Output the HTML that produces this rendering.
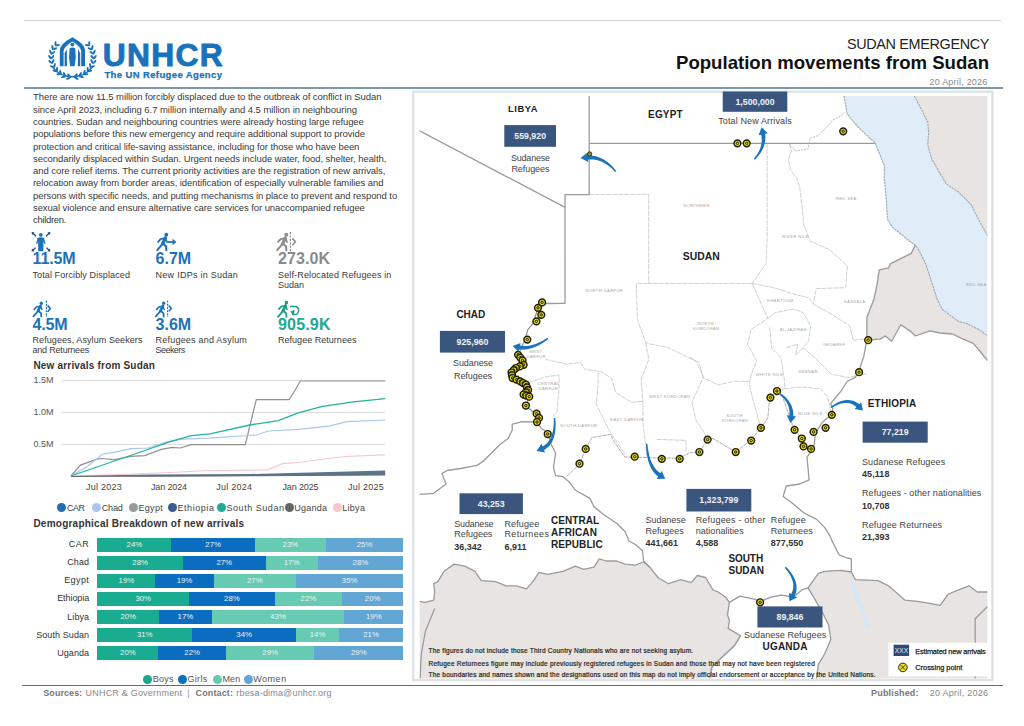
<!DOCTYPE html>
<html><head><meta charset="utf-8">
<style>
*{margin:0;padding:0;box-sizing:border-box}
html,body{width:1024px;height:726px;overflow:hidden;background:#fff;font-family:"Liberation Sans",sans-serif;color:#333;position:relative}
.t{position:absolute;white-space:nowrap;line-height:1}
svg{position:absolute;overflow:visible}
</style></head><body>
<div style="position:absolute;left:23.6px;top:20px;width:977.4px;height:1px;background:#d2d2d2"></div>
<div style="position:absolute;left:24px;top:86.7px;width:979px;height:2px;background:#7c98ab"></div>
<div style="position:absolute;left:22px;top:684.8px;width:981px;height:1.5px;background:#54738a"></div>
<div style="position:absolute;left:61.6px;top:379.9px;width:323.6px;height:1.5px;background:#dcdcdc"></div>
<div style="position:absolute;left:61.6px;top:411.9px;width:323.6px;height:1.5px;background:#dcdcdc"></div>
<div style="position:absolute;left:61.6px;top:443.9px;width:323.6px;height:1.5px;background:#dcdcdc"></div>
<svg style="position:absolute;left:0;top:0" width="420" height="520"><polyline points="70.9,476 120,474.5 170,472.5 210,470.5 267.3,470 282.7,463.6 298.2,462.5 344.4,456.5 385.2,454.8" fill="none" stroke="#f5c6cf" stroke-width="1.2"/><polygon points="70.9,476 150,474.5 250,474 385.2,470.5 385.2,475 250,476 150,476.5" fill="#5b7590"/><polyline points="70.9,476.5 385.2,475" fill="none" stroke="#6d6d6d" stroke-width="1.2"/><polyline points="70.9,476 80.5,465.1 95.6,459.7 101,458.5 114.7,459.7 131,456.3 144.8,455.6 161.2,449.4 172.2,447.4 180.4,448 191.3,444.6 245.3,444.6 256.3,399.7 289.3,399.7 300.4,381 385.2,381" fill="none" stroke="#909090" stroke-width="1.2"/><polyline points="70.9,476 87.4,466.5 102.4,454.2 114.7,452.1 131,448.7 147.6,448 166.7,441.9 183,439.2 210,438.2 256.3,435 268.4,431 298.2,429.4 329,426.1 346.7,421.7 385.2,420" fill="none" stroke="#a9c7ee" stroke-width="1.2"/><polyline points="70.9,476 142,451.5 169.4,441.9 191.3,435.7 210,433.8 249.7,425 278.3,420.6 298.2,412.9 322.4,406.3 353.3,401.9 385.2,398.6" fill="none" stroke="#26b39e" stroke-width="1.3"/></svg>
<div style="position:absolute;left:56.9px;top:503.09999999999997px;width:9.2px;height:9.2px;border-radius:50%;background:#1f6fb5"></div>
<div style="position:absolute;left:91.80000000000001px;top:503.09999999999997px;width:9.2px;height:9.2px;border-radius:50%;background:#a9c7ee"></div>
<div style="position:absolute;left:128.70000000000002px;top:503.09999999999997px;width:9.2px;height:9.2px;border-radius:50%;background:#9a9a9a"></div>
<div style="position:absolute;left:167.70000000000002px;top:503.09999999999997px;width:9.2px;height:9.2px;border-radius:50%;background:#3c5e8a"></div>
<div style="position:absolute;left:216.9px;top:503.09999999999997px;width:9.2px;height:9.2px;border-radius:50%;background:#20ab96"></div>
<div style="position:absolute;left:284.59999999999997px;top:503.09999999999997px;width:9.2px;height:9.2px;border-radius:50%;background:#666"></div>
<div style="position:absolute;left:332.59999999999997px;top:503.09999999999997px;width:9.2px;height:9.2px;border-radius:50%;background:#f5c6cf"></div>
<div style="position:absolute;left:97.30px;top:537.50px;width:74.46px;height:14px;background:#1aac90"></div>
<div style="position:absolute;left:171.46px;top:537.50px;width:83.73px;height:14px;background:#0b6dc0"></div>
<div style="position:absolute;left:254.88px;top:537.50px;width:71.37px;height:14px;background:#66cbb2"></div>
<div style="position:absolute;left:325.95px;top:537.50px;width:77.55px;height:14px;background:#62a6d6"></div>
<div style="position:absolute;left:97.30px;top:555.53px;width:85.95px;height:14px;background:#1aac90"></div>
<div style="position:absolute;left:182.95px;top:555.53px;width:82.89px;height:14px;background:#0b6dc0"></div>
<div style="position:absolute;left:265.54px;top:555.53px;width:52.30px;height:14px;background:#66cbb2"></div>
<div style="position:absolute;left:317.55px;top:555.53px;width:85.95px;height:14px;background:#62a6d6"></div>
<div style="position:absolute;left:97.30px;top:573.56px;width:58.42px;height:14px;background:#1aac90"></div>
<div style="position:absolute;left:155.42px;top:573.56px;width:58.42px;height:14px;background:#0b6dc0"></div>
<div style="position:absolute;left:213.54px;top:573.56px;width:82.89px;height:14px;background:#66cbb2"></div>
<div style="position:absolute;left:296.13px;top:573.56px;width:107.36px;height:14px;background:#62a6d6"></div>
<div style="position:absolute;left:97.30px;top:591.59px;width:92.07px;height:14px;background:#1aac90"></div>
<div style="position:absolute;left:189.07px;top:591.59px;width:85.95px;height:14px;background:#0b6dc0"></div>
<div style="position:absolute;left:274.72px;top:591.59px;width:67.60px;height:14px;background:#66cbb2"></div>
<div style="position:absolute;left:342.02px;top:591.59px;width:61.48px;height:14px;background:#62a6d6"></div>
<div style="position:absolute;left:97.30px;top:609.62px;width:62.10px;height:14px;background:#1aac90"></div>
<div style="position:absolute;left:159.10px;top:609.62px;width:52.83px;height:14px;background:#0b6dc0"></div>
<div style="position:absolute;left:211.63px;top:609.62px;width:133.17px;height:14px;background:#66cbb2"></div>
<div style="position:absolute;left:344.49px;top:609.62px;width:59.01px;height:14px;background:#62a6d6"></div>
<div style="position:absolute;left:97.30px;top:627.65px;width:95.13px;height:14px;background:#1aac90"></div>
<div style="position:absolute;left:192.13px;top:627.65px;width:104.31px;height:14px;background:#0b6dc0"></div>
<div style="position:absolute;left:296.13px;top:627.65px;width:43.13px;height:14px;background:#66cbb2"></div>
<div style="position:absolute;left:338.96px;top:627.65px;width:64.54px;height:14px;background:#62a6d6"></div>
<div style="position:absolute;left:97.30px;top:645.68px;width:61.48px;height:14px;background:#1aac90"></div>
<div style="position:absolute;left:158.48px;top:645.68px;width:67.60px;height:14px;background:#0b6dc0"></div>
<div style="position:absolute;left:225.78px;top:645.68px;width:89.01px;height:14px;background:#66cbb2"></div>
<div style="position:absolute;left:314.49px;top:645.68px;width:89.01px;height:14px;background:#62a6d6"></div>
<div style="position:absolute;left:143.1px;top:674.8px;width:9.2px;height:9.2px;border-radius:50%;background:#18a88e"></div>
<div style="position:absolute;left:177.9px;top:674.8px;width:9.2px;height:9.2px;border-radius:50%;background:#0b6fbe"></div>
<div style="position:absolute;left:212.8px;top:674.8px;width:9.2px;height:9.2px;border-radius:50%;background:#66cbb2"></div>
<div style="position:absolute;left:243.6px;top:674.8px;width:9.2px;height:9.2px;border-radius:50%;background:#62a6d6"></div>
<svg style="left:0;top:0" width="1024" height="726"><defs><clipPath id="mc"><rect x="419.5" y="96" width="568.1" height="582.6"/></clipPath></defs><rect x="413.3" y="91.7" width="579.1" height="588.5" fill="#fff" stroke="#e0e2e4" stroke-width="2.4"/><g clip-path="url(#mc)"><polygon points="914.3,96.0 921.5,109.6 927.7,122.0 928.7,132.3 927.7,144.7 931.8,159.2 940.1,173.6 946.3,184.0 958.7,192.2 971.1,204.6 979.4,221.2 987.6,235.6 987.6,96.0" fill="#e8e4e1"/><polygon points="844.0,96.0 847.1,113.7 855.4,124.0 865.7,134.4 875.0,142.7 879.2,153.0 884.3,165.4 884.3,177.8 886.4,200.5 887.4,219.1 892.6,227.4 902.9,235.6 909.1,241.0 915.3,245.1 915.3,245.1 919.4,251.3 925.6,263.7 931.8,282.3 937.0,298.9 942.2,309.2 950.4,315.4 958.7,321.6 967.0,323.6 979.4,329.8 987.6,336.0 987.6,235.6 987.6,235.6 979.4,221.2 971.1,204.6 958.7,192.2 946.3,184.0 940.1,173.6 931.8,159.2 927.7,144.7 928.7,132.3 927.7,122.0 921.5,109.6 914.3,96.0" fill="#e0ecf8"/><polygon points="915.3,245.1 911.2,253.4 898.8,259.6 890.5,263.7 888.5,267.9 879.2,269.9 877.1,284.4 874.0,298.9 866.8,317.4 866.8,340.2 880.2,339.1 885.4,336.0 891.6,341.2 900.9,324.7 911.2,331.9 915.3,336.0 929.8,330.9 940.1,333.0 952.5,334.0 960.8,338.1 973.2,343.3 979.4,350.5 987.6,360.8 987.6,336.0 979.4,329.8 967.0,323.6 958.7,321.6 950.4,315.4 942.2,309.2 937.0,298.9 931.8,282.3 925.6,263.7 919.4,251.3 915.3,245.1" fill="#e8e4e1"/><polygon points="419.5,601.3 425.4,602.3 433.7,600.2 434.7,592.0 433.7,583.7 437.8,581.7 444.0,571.3 454.3,564.1 464.7,566.2 475.0,571.3 481.2,580.6 495.6,581.7 506.0,585.8 516.3,585.8 526.6,588.9 532.8,581.7 539.0,572.4 547.3,574.4 563.0,571.3 575.4,566.2 583.7,569.3 594.0,567.2 599.2,558.9 606.4,561.0 616.7,561.0 625.0,564.1 635.3,565.1 643.6,562.0 649.8,567.2 658.0,577.5 668.4,583.7 680.8,579.6 691.1,582.7 697.3,575.5 705.6,577.5 713.0,589.9 718.2,592.0 725.4,597.0 729.4,602.4 727.5,614.8 729.4,621.0 728.2,628.4 740.5,635.8 734.3,645.8 719.5,659.4 712.0,666.8 709.6,679.0 419.5,679.0" fill="#e8e4e1"/><polygon points="808.0,587.9 818.4,573.4 824.6,571.3 841.1,570.3 851.3,572.0 855.4,579.6 878.1,580.6 888.5,585.8 905.0,600.2 917.4,601.3 929.8,603.3 940.1,605.4 948.4,594.0 958.7,589.9 969.0,585.8 977.3,592.0 987.6,592.0 987.6,679.0 816.3,679.0 818.4,664.3 824.6,654.0 830.8,639.5 828.7,625.0 822.5,612.6 814.2,598.2 808.0,587.9" fill="#e8e4e1"/><polygon points="852,578 858,592 864,610 870,626 867,629 859,607 852,590" fill="#d6e6f6"/><polyline points="740,636 734,646 720,659 712,667 710,677" fill="none" stroke="#cfe0f2" stroke-width="2.2"/><polyline points="914.3,96.0 921.5,109.6 927.7,122.0 928.7,132.3 927.7,144.7 931.8,159.2 940.1,173.6 946.3,184.0 958.7,192.2 971.1,204.6 979.4,221.2 987.6,235.6" fill="none" stroke="#9ea8b2" stroke-width="1.1" stroke-dasharray="2.4 0.7"/><polyline points="844.0,96.0 847.1,113.7 855.4,124.0 865.7,134.4 875.0,142.7 879.2,153.0 884.3,165.4 884.3,177.8 886.4,200.5 887.4,219.1 892.6,227.4 902.9,235.6 909.1,241.0 915.3,245.1 915.3,245.1 919.4,251.3 925.6,263.7 931.8,282.3 937.0,298.9 942.2,309.2 950.4,315.4 958.7,321.6 967.0,323.6 979.4,329.8 987.6,336.0" fill="none" stroke="#9ea8b2" stroke-width="1.1" stroke-dasharray="2.4 0.7"/><polyline points="565.0,194.7 648.7,194.3 648.7,283.4 752.2,283.4" fill="none" stroke="#cbcbcb" stroke-width="0.9" stroke-dasharray="5 0.9"/><polyline points="648.7,283.4 636.3,283.4 637.4,319.5 645.6,342.2 648.9,343.7 668.4,347.6 695.8,361.3 703.6,376.9 691.9,402.3 695.8,419.8 703.6,431.6 707.5,439.4" fill="none" stroke="#cbcbcb" stroke-width="0.9" stroke-dasharray="5 0.9"/><polyline points="645.6,342.2 648.9,359.3 641.1,378.8 643.0,404.2 643.0,423.8 645.0,439.4 647.0,457.0" fill="none" stroke="#cbcbcb" stroke-width="0.9" stroke-dasharray="5 0.9"/><polyline points="545.4,359.3 566.9,364.2 580.5,362.2 584.5,369.1 602.0,372.0 611.8,378.8 615.7,392.5 631.3,402.3 643.0,401.3" fill="none" stroke="#cbcbcb" stroke-width="0.9" stroke-dasharray="5 0.9"/><polyline points="528.0,383.0 545.0,377.0 559.0,374.9 559.0,388.6 558.1,398.4 557.1,412.0 553.2,415.9" fill="none" stroke="#cbcbcb" stroke-width="0.9" stroke-dasharray="5 0.9"/><polyline points="598.1,373.0 598.1,384.7 596.2,404.2 602.0,415.9 609.8,431.6 625.5,455.0" fill="none" stroke="#cbcbcb" stroke-width="0.9" stroke-dasharray="5 0.9"/><polyline points="656.7,439.4 686.0,440.4 686.0,451.1" fill="none" stroke="#cbcbcb" stroke-width="0.9" stroke-dasharray="5 0.9"/><polyline points="767.1,143.3 767.1,241.0 766.0,263.7 752.2,283.4" fill="none" stroke="#cbcbcb" stroke-width="0.9" stroke-dasharray="5 0.9"/><polyline points="789.4,143.7 791.5,151.0 788.4,159.2 790.5,169.5 797.7,179.8 799.8,188.1 801.8,204.6 803.9,225.3 810.1,241.0 830.0,250.0 847.3,265.8 845.8,287.6 816.2,288.6 813.4,304.3" fill="none" stroke="#cbcbcb" stroke-width="0.9" stroke-dasharray="5 0.9"/><polyline points="752.2,283.4 773.5,287.6 793.9,294.1 808.7,297.8 813.4,304.3 829.1,312.7 849.6,325.7 853.3,340.5 866.3,338.6" fill="none" stroke="#cbcbcb" stroke-width="0.9" stroke-dasharray="5 0.9"/><polyline points="752.2,283.4 758.6,297.8 767.9,318.2 751.2,329.4 747.5,344.2 756.8,360.9 751.2,373.9 749.4,385.0 753.1,400.0 760.9,427.8" fill="none" stroke="#cbcbcb" stroke-width="0.9" stroke-dasharray="5 0.9"/><polyline points="767.9,318.2 775.3,312.7 793.9,309.0 803.2,312.7 810.6,325.7 808.7,340.5 803.2,347.9 816.2,359.1 831.0,373.9 847.7,377.6 866.3,373.9" fill="none" stroke="#cbcbcb" stroke-width="0.9" stroke-dasharray="5 0.9"/><polyline points="769.8,327.5 771.6,347.9 780.9,357.2 782.8,370.2 784.6,381.3 784.6,388.7 777.0,391.0" fill="none" stroke="#cbcbcb" stroke-width="0.9" stroke-dasharray="5 0.9"/><polyline points="786.5,347.9 797.6,344.2 795.8,355.3 803.2,347.9" fill="none" stroke="#cbcbcb" stroke-width="0.9" stroke-dasharray="5 0.9"/><polyline points="690.0,357.2 699.3,362.8 703.0,377.6 717.8,385.0 734.5,381.3 749.4,381.3" fill="none" stroke="#cbcbcb" stroke-width="0.9" stroke-dasharray="5 0.9"/><polyline points="784.6,388.7 801.3,386.9 819.9,388.7 827.3,396.2 831.8,414.8" fill="none" stroke="#cbcbcb" stroke-width="0.9" stroke-dasharray="5 0.9"/><polyline points="789.4,143.7 795.6,151 808,148.9 810.1,138.5 818.4,135.4 828.7,125.1 832.8,119.9 841.1,115.8 845.2,111.7" fill="none" stroke="#b5b5b5" stroke-width="0.9" stroke-dasharray="2 1"/><polyline points="567.0,476.0 579.5,464.3 585.7,448.9 591.9,437.5 610.5,434.4 614.7,442.7 625.0,457.1 634.3,457.1 662.2,458.1 679.7,458.1 689.0,453.0 699.4,452.0 707.6,439.6 713.0,438.5 735.7,452.0 750.2,440.6 761.6,427.2 767.8,417.9 768.8,407.5 769.8,397.2 777.0,391.0 783.0,398.0 790.0,418.0 794.6,429.8 801.8,438.5 803.5,446.4 811.1,448.9" fill="none" stroke="#b0b0b0" stroke-width="1" stroke-dasharray="4 0.8"/><polyline points="419.2,130.7 565.0,207.3" fill="none" stroke="#9b9b9b" stroke-width="1.3" stroke-linejoin="round"/><polyline points="589.2,96.0 589.2,194.7 565.0,194.7 565.0,303.3 546.0,303.5 538.0,307.8 537.0,311.2 532.8,323.6 527.7,329.8 525.6,338.1 520.4,350.5 518.1,354.8 522.5,360.3 523.6,364.8 515.9,368.0 511.5,372.5 512.6,378.0 520.3,381.3 525.9,384.6 528.1,390.1 523.6,394.5 529.2,396.7 525.9,405.5 534.9,413.7 537.0,422.0 541.1,428.2 547.3,432.3 551.4,444.7 555.6,453.0 553.5,467.4 555.6,475.7 563.0,476.7 569.2,481.9 575.4,490.2 589.9,498.4 594.0,506.7 604.3,515.0 616.7,523.2 625.0,531.5 629.1,541.0 635.3,544.5 642.5,550.7 643.6,561.0 649.8,567.2" fill="none" stroke="#9b9b9b" stroke-width="1.3" stroke-linejoin="round"/><polyline points="589.2,143.3 875.0,143.3" fill="none" stroke="#9b9b9b" stroke-width="1.3" stroke-linejoin="round"/><polyline points="419.2,494.3 433.7,493.3 446.1,484.0 441.9,473.6 447.1,470.5 460.5,468.5 477.0,465.4 483.2,461.2 491.5,453.0 499.8,444.7 508.0,438.5 512.2,430.3 512.2,424.1 522.5,421.6 532.8,422.0 537.0,422.0" fill="none" stroke="#9b9b9b" stroke-width="1.3" stroke-linejoin="round"/><polyline points="915.3,245.1 911.2,253.4 898.8,259.6 890.5,263.7 888.5,267.9 879.2,269.9 877.1,284.4 874.0,298.9 866.8,317.4 866.8,340.2" fill="none" stroke="#9b9b9b" stroke-width="1.3" stroke-linejoin="round"/><polyline points="866.8,340.2 880.2,339.1 885.4,336.0 891.6,341.2 900.9,324.7 911.2,331.9 915.3,336.0 929.8,330.9 940.1,333.0 952.5,334.0 960.8,338.1 973.2,343.3 979.4,350.5 987.6,360.8" fill="none" stroke="#9b9b9b" stroke-width="1.3" stroke-linejoin="round"/><polyline points="866.8,340.2 865.7,346.4 863.7,356.7 859.5,369.1 855.4,377.4 847.1,381.5 841.1,391.0 830.8,403.4 832.8,408.6 831.8,414.8 822.5,422.0 815.3,433.4 814.2,444.7 810.1,453.0 807.0,457.1 809.1,479.8 799.8,484.0 786.3,486.0 783.2,496.4 791.5,502.6 803.9,512.9 816.3,519.1 824.6,527.4 829.7,535.6 832.8,542.4 839.0,554.8 847.3,558.0 851.3,558.9 851.3,572.0" fill="none" stroke="#9b9b9b" stroke-width="1.3" stroke-linejoin="round"/><polyline points="419.5,601.3 425.4,602.3 433.7,600.2 434.7,592.0 433.7,583.7 437.8,581.7 444.0,571.3 454.3,564.1 464.7,566.2 475.0,571.3 481.2,580.6 495.6,581.7 506.0,585.8 516.3,585.8 526.6,588.9 532.8,581.7 539.0,572.4 547.3,574.4 563.0,571.3 575.4,566.2 583.7,569.3 594.0,567.2 599.2,558.9 606.4,561.0 616.7,561.0 625.0,564.1 635.3,565.1 643.6,562.0 649.8,567.2 658.0,577.5 668.4,583.7 680.8,579.6 691.1,582.7 697.3,575.5 705.6,577.5 713.0,589.9 718.2,592.0 725.4,597.0 729.4,602.4 727.5,614.8 729.4,621.0 728.2,628.4 740.5,635.8 734.3,645.8 719.5,659.4 712.0,666.8 709.6,679.0" fill="none" stroke="#9b9b9b" stroke-width="1.3" stroke-linejoin="round"/><polyline points="729.4,602.4 739.9,596.1 754.3,599.2 760.5,601.3 770.9,597.1 781.2,595.1 793.6,597.1 801.8,589.9 808.0,587.9" fill="none" stroke="#9b9b9b" stroke-width="1.3" stroke-linejoin="round"/><polyline points="808.0,587.9 818.4,573.4 824.6,571.3 841.1,570.3 851.3,572.0 855.4,579.6 878.1,580.6 888.5,585.8 905.0,600.2 917.4,601.3 929.8,603.3 940.1,605.4 948.4,594.0 958.7,589.9 969.0,585.8 977.3,592.0 987.6,592.0" fill="none" stroke="#9b9b9b" stroke-width="1.3" stroke-linejoin="round"/><polyline points="808.0,587.9 814.2,598.2 822.5,612.6 828.7,625.0 830.8,639.5 824.6,654.0 818.4,664.3 816.3,679.0" fill="none" stroke="#9b9b9b" stroke-width="1.3" stroke-linejoin="round"/><polyline points="434.7,608.5 425.4,631.2 421.3,654.0 420.0,679.0" fill="none" stroke="#9b9b9b" stroke-width="1.3" stroke-linejoin="round"/><polyline points="987.6,606.4 975.2,618.8 975.2,679.0" fill="none" stroke="#9b9b9b" stroke-width="1.3" stroke-linejoin="round"/></g><circle cx="737.4" cy="143.3" r="3.4" fill="#e6da12" stroke="#1f1d0a" stroke-width="1.45"/><circle cx="737.4" cy="143.3" r="1.2" fill="none" stroke="#1f1d0a" stroke-width="1"/><circle cx="746.7" cy="143.3" r="3.4" fill="#e6da12" stroke="#1f1d0a" stroke-width="1.45"/><circle cx="746.7" cy="143.3" r="1.2" fill="none" stroke="#1f1d0a" stroke-width="1"/><circle cx="843.2" cy="131.3" r="3.4" fill="#e6da12" stroke="#1f1d0a" stroke-width="1.45"/><circle cx="843.2" cy="131.3" r="1.2" fill="none" stroke="#1f1d0a" stroke-width="1"/><circle cx="542.1" cy="302.4" r="3.4" fill="#e6da12" stroke="#1f1d0a" stroke-width="1.45"/><circle cx="542.1" cy="302.4" r="1.2" fill="none" stroke="#1f1d0a" stroke-width="1"/><circle cx="538" cy="307.8" r="3.4" fill="#e6da12" stroke="#1f1d0a" stroke-width="1.45"/><circle cx="538" cy="307.8" r="1.2" fill="none" stroke="#1f1d0a" stroke-width="1"/><circle cx="541.3" cy="314.8" r="3.4" fill="#e6da12" stroke="#1f1d0a" stroke-width="1.45"/><circle cx="541.3" cy="314.8" r="1.2" fill="none" stroke="#1f1d0a" stroke-width="1"/><circle cx="536.4" cy="321.4" r="3.4" fill="#e6da12" stroke="#1f1d0a" stroke-width="1.45"/><circle cx="536.4" cy="321.4" r="1.2" fill="none" stroke="#1f1d0a" stroke-width="1"/><circle cx="527.3" cy="339.6" r="3.4" fill="#e6da12" stroke="#1f1d0a" stroke-width="1.45"/><circle cx="527.3" cy="339.6" r="1.2" fill="none" stroke="#1f1d0a" stroke-width="1"/><circle cx="518.1" cy="354.8" r="3.4" fill="#e6da12" stroke="#1f1d0a" stroke-width="1.45"/><circle cx="518.1" cy="354.8" r="1.2" fill="none" stroke="#1f1d0a" stroke-width="1"/><circle cx="520.3" cy="357.6" r="3.4" fill="#e6da12" stroke="#1f1d0a" stroke-width="1.45"/><circle cx="520.3" cy="357.6" r="1.2" fill="none" stroke="#1f1d0a" stroke-width="1"/><circle cx="522.5" cy="360.3" r="3.4" fill="#e6da12" stroke="#1f1d0a" stroke-width="1.45"/><circle cx="522.5" cy="360.3" r="1.2" fill="none" stroke="#1f1d0a" stroke-width="1"/><circle cx="523.6" cy="364.8" r="3.4" fill="#e6da12" stroke="#1f1d0a" stroke-width="1.45"/><circle cx="523.6" cy="364.8" r="1.2" fill="none" stroke="#1f1d0a" stroke-width="1"/><circle cx="519.8" cy="366.4" r="3.4" fill="#e6da12" stroke="#1f1d0a" stroke-width="1.45"/><circle cx="519.8" cy="366.4" r="1.2" fill="none" stroke="#1f1d0a" stroke-width="1"/><circle cx="515.9" cy="368.0" r="3.4" fill="#e6da12" stroke="#1f1d0a" stroke-width="1.45"/><circle cx="515.9" cy="368.0" r="1.2" fill="none" stroke="#1f1d0a" stroke-width="1"/><circle cx="513.7" cy="370.2" r="3.4" fill="#e6da12" stroke="#1f1d0a" stroke-width="1.45"/><circle cx="513.7" cy="370.2" r="1.2" fill="none" stroke="#1f1d0a" stroke-width="1"/><circle cx="511.5" cy="372.5" r="3.4" fill="#e6da12" stroke="#1f1d0a" stroke-width="1.45"/><circle cx="511.5" cy="372.5" r="1.2" fill="none" stroke="#1f1d0a" stroke-width="1"/><circle cx="512.0" cy="375.2" r="3.4" fill="#e6da12" stroke="#1f1d0a" stroke-width="1.45"/><circle cx="512.0" cy="375.2" r="1.2" fill="none" stroke="#1f1d0a" stroke-width="1"/><circle cx="512.6" cy="378.0" r="3.4" fill="#e6da12" stroke="#1f1d0a" stroke-width="1.45"/><circle cx="512.6" cy="378.0" r="1.2" fill="none" stroke="#1f1d0a" stroke-width="1"/><circle cx="516.5" cy="379.6" r="3.4" fill="#e6da12" stroke="#1f1d0a" stroke-width="1.45"/><circle cx="516.5" cy="379.6" r="1.2" fill="none" stroke="#1f1d0a" stroke-width="1"/><circle cx="520.3" cy="381.3" r="3.4" fill="#e6da12" stroke="#1f1d0a" stroke-width="1.45"/><circle cx="520.3" cy="381.3" r="1.2" fill="none" stroke="#1f1d0a" stroke-width="1"/><circle cx="523.1" cy="383.0" r="3.4" fill="#e6da12" stroke="#1f1d0a" stroke-width="1.45"/><circle cx="523.1" cy="383.0" r="1.2" fill="none" stroke="#1f1d0a" stroke-width="1"/><circle cx="525.9" cy="384.6" r="3.4" fill="#e6da12" stroke="#1f1d0a" stroke-width="1.45"/><circle cx="525.9" cy="384.6" r="1.2" fill="none" stroke="#1f1d0a" stroke-width="1"/><circle cx="527.0" cy="387.4" r="3.4" fill="#e6da12" stroke="#1f1d0a" stroke-width="1.45"/><circle cx="527.0" cy="387.4" r="1.2" fill="none" stroke="#1f1d0a" stroke-width="1"/><circle cx="528.1" cy="390.1" r="3.4" fill="#e6da12" stroke="#1f1d0a" stroke-width="1.45"/><circle cx="528.1" cy="390.1" r="1.2" fill="none" stroke="#1f1d0a" stroke-width="1"/><circle cx="525.9" cy="392.3" r="3.4" fill="#e6da12" stroke="#1f1d0a" stroke-width="1.45"/><circle cx="525.9" cy="392.3" r="1.2" fill="none" stroke="#1f1d0a" stroke-width="1"/><circle cx="523.6" cy="394.5" r="3.4" fill="#e6da12" stroke="#1f1d0a" stroke-width="1.45"/><circle cx="523.6" cy="394.5" r="1.2" fill="none" stroke="#1f1d0a" stroke-width="1"/><circle cx="526.4" cy="395.6" r="3.4" fill="#e6da12" stroke="#1f1d0a" stroke-width="1.45"/><circle cx="526.4" cy="395.6" r="1.2" fill="none" stroke="#1f1d0a" stroke-width="1"/><circle cx="529.2" cy="396.7" r="3.4" fill="#e6da12" stroke="#1f1d0a" stroke-width="1.45"/><circle cx="529.2" cy="396.7" r="1.2" fill="none" stroke="#1f1d0a" stroke-width="1"/><circle cx="525.9" cy="405.5" r="3.4" fill="#e6da12" stroke="#1f1d0a" stroke-width="1.45"/><circle cx="525.9" cy="405.5" r="1.2" fill="none" stroke="#1f1d0a" stroke-width="1"/><circle cx="536.6" cy="413.7" r="3.4" fill="#e6da12" stroke="#1f1d0a" stroke-width="1.45"/><circle cx="536.6" cy="413.7" r="1.2" fill="none" stroke="#1f1d0a" stroke-width="1"/><circle cx="539" cy="417.9" r="3.4" fill="#e6da12" stroke="#1f1d0a" stroke-width="1.45"/><circle cx="539" cy="417.9" r="1.2" fill="none" stroke="#1f1d0a" stroke-width="1"/><circle cx="537" cy="422" r="3.4" fill="#e6da12" stroke="#1f1d0a" stroke-width="1.45"/><circle cx="537" cy="422" r="1.2" fill="none" stroke="#1f1d0a" stroke-width="1"/><circle cx="547.7" cy="434" r="3.4" fill="#e6da12" stroke="#1f1d0a" stroke-width="1.45"/><circle cx="547.7" cy="434" r="1.2" fill="none" stroke="#1f1d0a" stroke-width="1"/><circle cx="585.7" cy="448.9" r="3.4" fill="#e6da12" stroke="#1f1d0a" stroke-width="1.45"/><circle cx="585.7" cy="448.9" r="1.2" fill="none" stroke="#1f1d0a" stroke-width="1"/><circle cx="579.5" cy="463.7" r="3.4" fill="#e6da12" stroke="#1f1d0a" stroke-width="1.45"/><circle cx="579.5" cy="463.7" r="1.2" fill="none" stroke="#1f1d0a" stroke-width="1"/><circle cx="634.7" cy="456.7" r="3.4" fill="#e6da12" stroke="#1f1d0a" stroke-width="1.45"/><circle cx="634.7" cy="456.7" r="1.2" fill="none" stroke="#1f1d0a" stroke-width="1"/><circle cx="661.8" cy="458.8" r="3.4" fill="#e6da12" stroke="#1f1d0a" stroke-width="1.45"/><circle cx="661.8" cy="458.8" r="1.2" fill="none" stroke="#1f1d0a" stroke-width="1"/><circle cx="679.7" cy="458.8" r="3.4" fill="#e6da12" stroke="#1f1d0a" stroke-width="1.45"/><circle cx="679.7" cy="458.8" r="1.2" fill="none" stroke="#1f1d0a" stroke-width="1"/><circle cx="699.4" cy="452" r="3.4" fill="#e6da12" stroke="#1f1d0a" stroke-width="1.45"/><circle cx="699.4" cy="452" r="1.2" fill="none" stroke="#1f1d0a" stroke-width="1"/><circle cx="707.6" cy="439.6" r="3.4" fill="#e6da12" stroke="#1f1d0a" stroke-width="1.45"/><circle cx="707.6" cy="439.6" r="1.2" fill="none" stroke="#1f1d0a" stroke-width="1"/><circle cx="735.7" cy="452" r="3.4" fill="#e6da12" stroke="#1f1d0a" stroke-width="1.45"/><circle cx="735.7" cy="452" r="1.2" fill="none" stroke="#1f1d0a" stroke-width="1"/><circle cx="751.2" cy="440.6" r="3.4" fill="#e6da12" stroke="#1f1d0a" stroke-width="1.45"/><circle cx="751.2" cy="440.6" r="1.2" fill="none" stroke="#1f1d0a" stroke-width="1"/><circle cx="760.9" cy="427.8" r="3.4" fill="#e6da12" stroke="#1f1d0a" stroke-width="1.45"/><circle cx="760.9" cy="427.8" r="1.2" fill="none" stroke="#1f1d0a" stroke-width="1"/><circle cx="770.4" cy="397.6" r="3.4" fill="#e6da12" stroke="#1f1d0a" stroke-width="1.45"/><circle cx="770.4" cy="397.6" r="1.2" fill="none" stroke="#1f1d0a" stroke-width="1"/><circle cx="777" cy="391" r="3.4" fill="#e6da12" stroke="#1f1d0a" stroke-width="1.45"/><circle cx="777" cy="391" r="1.2" fill="none" stroke="#1f1d0a" stroke-width="1"/><circle cx="794.6" cy="429.8" r="3.4" fill="#e6da12" stroke="#1f1d0a" stroke-width="1.45"/><circle cx="794.6" cy="429.8" r="1.2" fill="none" stroke="#1f1d0a" stroke-width="1"/><circle cx="801.8" cy="438.5" r="3.4" fill="#e6da12" stroke="#1f1d0a" stroke-width="1.45"/><circle cx="801.8" cy="438.5" r="1.2" fill="none" stroke="#1f1d0a" stroke-width="1"/><circle cx="803.5" cy="446.4" r="3.4" fill="#e6da12" stroke="#1f1d0a" stroke-width="1.45"/><circle cx="803.5" cy="446.4" r="1.2" fill="none" stroke="#1f1d0a" stroke-width="1"/><circle cx="811.1" cy="448.9" r="3.4" fill="#e6da12" stroke="#1f1d0a" stroke-width="1.45"/><circle cx="811.1" cy="448.9" r="1.2" fill="none" stroke="#1f1d0a" stroke-width="1"/><circle cx="813.6" cy="431.9" r="3.4" fill="#e6da12" stroke="#1f1d0a" stroke-width="1.45"/><circle cx="813.6" cy="431.9" r="1.2" fill="none" stroke="#1f1d0a" stroke-width="1"/><circle cx="825.6" cy="427.8" r="3.4" fill="#e6da12" stroke="#1f1d0a" stroke-width="1.45"/><circle cx="825.6" cy="427.8" r="1.2" fill="none" stroke="#1f1d0a" stroke-width="1"/><circle cx="831.8" cy="414.8" r="3.4" fill="#e6da12" stroke="#1f1d0a" stroke-width="1.45"/><circle cx="831.8" cy="414.8" r="1.2" fill="none" stroke="#1f1d0a" stroke-width="1"/><circle cx="868.2" cy="340.2" r="3.4" fill="#e6da12" stroke="#1f1d0a" stroke-width="1.45"/><circle cx="868.2" cy="340.2" r="1.2" fill="none" stroke="#1f1d0a" stroke-width="1"/><circle cx="859.1" cy="372.2" r="3.4" fill="#e6da12" stroke="#1f1d0a" stroke-width="1.45"/><circle cx="859.1" cy="372.2" r="1.2" fill="none" stroke="#1f1d0a" stroke-width="1"/><circle cx="760.1" cy="602.3" r="3.4" fill="#e6da12" stroke="#1f1d0a" stroke-width="1.45"/><circle cx="760.1" cy="602.3" r="1.2" fill="none" stroke="#1f1d0a" stroke-width="1"/><polygon points="616.3,171.1 614.7,169.2 613.1,167.3 611.5,165.6 609.8,164.0 608.1,162.6 606.3,161.3 604.5,160.1 602.6,159.0 600.7,158.1 598.8,157.3 596.8,156.6 594.7,156.1 592.6,155.7 590.5,155.5 588.3,155.4 586.1,155.5 586.5,159.7 588.5,159.4 590.4,159.4 592.3,159.4 594.1,159.6 596.0,159.9 597.8,160.3 599.6,160.9 601.4,161.6 603.2,162.4 604.9,163.4 606.7,164.5 608.4,165.7 610.1,167.1 611.8,168.6 613.5,170.3 615.1,172.1" fill="#1b73ba"/><polygon points="580.6,158.1 587.3,152.7 588.2,162.1" fill="#1b73ba"/><polygon points="754.8,159.7 756.3,158.2 757.7,156.7 759.0,155.1 760.1,153.6 761.2,151.9 762.1,150.3 762.9,148.6 763.6,146.9 764.2,145.2 764.7,143.5 765.0,141.7 765.3,139.9 765.4,138.0 765.3,136.2 765.2,134.3 764.9,132.4 760.8,133.3 761.2,134.9 761.5,136.5 761.7,138.1 761.7,139.7 761.7,141.3 761.6,142.9 761.3,144.5 760.9,146.1 760.4,147.7 759.9,149.2 759.1,150.8 758.3,152.4 757.3,154.0 756.3,155.5 755.1,157.1 753.8,158.7" fill="#1b73ba"/><polygon points="761.6,127.2 767.7,133.2 758.6,135.2" fill="#1b73ba"/><polygon points="547.5,337.7 545.4,339.0 543.5,340.2 541.5,341.3 539.6,342.3 537.7,343.1 535.8,343.9 533.9,344.5 532.1,345.0 530.3,345.4 528.6,345.7 526.9,345.9 525.2,345.9 523.5,345.9 521.9,345.7 520.2,345.5 518.7,345.1 517.8,349.2 519.7,349.5 521.6,349.6 523.5,349.6 525.4,349.4 527.2,349.2 529.1,348.8 531.0,348.3 532.9,347.7 534.8,347.0 536.8,346.2 538.7,345.3 540.6,344.2 542.5,343.0 544.4,341.8 546.4,340.4 548.3,338.9" fill="#1b73ba"/><polygon points="512.6,346 520.6,342.9 518.7,352.1" fill="#1b73ba"/><polygon points="553.8,417.9 553.8,421.0 553.7,423.9 553.5,426.6 553.2,429.1 552.8,431.5 552.2,433.7 551.6,435.7 550.8,437.6 549.9,439.3 548.9,440.9 547.9,442.2 546.7,443.4 545.5,444.5 544.1,445.4 542.7,446.2 541.1,446.8 542.7,450.7 544.6,449.7 546.3,448.6 547.8,447.3 549.3,445.9 550.5,444.3 551.6,442.6 552.6,440.7 553.4,438.7 554.1,436.6 554.7,434.3 555.1,431.9 555.4,429.4 555.5,426.7 555.6,423.9 555.5,420.9 555.2,417.9" fill="#1b73ba"/><polygon points="536.6,450.9 541.5,443.8 545.0,452.5" fill="#1b73ba"/><polygon points="646.0,443.7 646.1,446.7 646.3,449.6 646.6,452.4 647.0,455.0 647.5,457.6 648.0,460.0 648.7,462.3 649.5,464.4 650.3,466.5 651.3,468.4 652.4,470.2 653.5,472.0 654.8,473.5 656.2,475.0 657.7,476.3 659.3,477.5 661.5,474.0 660.1,473.1 658.8,472.1 657.5,471.0 656.3,469.7 655.1,468.3 654.0,466.8 653.0,465.1 652.1,463.3 651.2,461.3 650.4,459.2 649.7,457.0 649.1,454.6 648.6,452.1 648.1,449.4 647.7,446.6 647.4,443.7" fill="#1b73ba"/><polygon points="665.3,478.8 656.7,479.0 661.7,471.0" fill="#1b73ba"/><polygon points="778.7,393.7 780.3,395.0 781.7,396.3 783.1,397.7 784.3,399.1 785.3,400.4 786.3,401.9 787.1,403.3 787.8,404.7 788.4,406.2 788.8,407.7 789.2,409.2 789.4,410.7 789.5,412.2 789.5,413.8 789.4,415.4 789.1,417.0 793.3,417.5 793.4,415.6 793.3,413.8 793.2,411.9 792.9,410.1 792.4,408.4 791.9,406.7 791.2,405.1 790.4,403.5 789.4,401.9 788.4,400.4 787.2,399.0 785.9,397.6 784.5,396.2 782.9,395.0 781.3,393.7 779.5,392.5" fill="#1b73ba"/><polygon points="790.5,423 786.7,415.3 796.1,416.4" fill="#1b73ba"/><polygon points="831.2,408.1 833.4,406.9 835.4,405.8 837.4,404.9 839.4,404.1 841.3,403.6 843.1,403.2 844.8,403.0 846.5,402.9 848.0,403.1 849.6,403.3 851.0,403.7 852.4,404.3 853.7,405.0 855.0,405.9 856.2,406.9 857.4,408.1 860.3,405.1 858.8,403.8 857.1,402.7 855.4,401.8 853.7,401.0 851.9,400.5 850.1,400.2 848.2,400.0 846.4,400.1 844.5,400.3 842.5,400.8 840.6,401.3 838.6,402.1 836.6,403.1 834.6,404.2 832.5,405.4 830.4,406.9" fill="#1b73ba"/><polygon points="863,410.6 854.6,408.9 861.1,402.2" fill="#1b73ba"/><polygon points="784.8,567.7 786.4,569.7 787.9,571.7 789.2,573.6 790.3,575.5 791.3,577.4 792.0,579.2 792.6,581.0 793.0,582.7 793.3,584.4 793.3,586.1 793.2,587.7 793.0,589.2 792.6,590.8 792.0,592.3 791.3,593.8 790.5,595.3 794.1,597.4 795.0,595.5 795.7,593.6 796.2,591.7 796.5,589.8 796.6,587.8 796.5,585.9 796.2,584.0 795.8,582.0 795.1,580.1 794.3,578.2 793.3,576.3 792.2,574.4 790.9,572.5 789.4,570.6 787.7,568.6 785.8,566.7" fill="#1b73ba"/><polygon points="789.4,601.3 788.9,592.7 797.1,597.4" fill="#1b73ba"/><circle cx="589.6" cy="154" r="2.2" fill="#8c8a20" stroke="#222" stroke-width="0.8"/><rect x="504.3" y="125.1" width="51.7" height="21.7" fill="#3a567e"/><rect x="722.7" y="91.5" width="64.6" height="20.3" fill="#3a567e"/><rect x="439.9" y="330.9" width="65.1" height="21.7" fill="#3a567e"/><rect x="459.5" y="493.3" width="63.4" height="20.8" fill="#3a567e"/><rect x="686.4" y="488.9" width="64.9" height="22.6" fill="#3a567e"/><rect x="862.6" y="421.6" width="65.1" height="21.1" fill="#3a567e"/><rect x="757.4" y="606.4" width="65.1" height="21.1" fill="#3a567e"/><rect x="888.4" y="642.8" width="99.2" height="33.6" fill="#fff"/><rect x="893.6" y="644.7" width="15.5" height="11.3" fill="#2f4a78"/><circle cx="902.9" cy="667.4" r="4.3" fill="#f2e31b" stroke="#222" stroke-width="1"/><path d="M900.6,665.1 L905.2,669.7 M905.2,665.1 L900.6,669.7" stroke="#222" stroke-width="0.9"/></svg>
<svg style="left:0;top:0" width="240" height="100"><g fill="#1a72bb"><ellipse cx="68.48" cy="78.23" rx="2.5" ry="1.05" transform="rotate(152.0 68.48 78.23)"/><ellipse cx="68.95" cy="75.57" rx="2.5" ry="1.05" transform="rotate(228.0 68.95 75.57)"/><ellipse cx="63.41" cy="76.80" rx="2.5" ry="1.05" transform="rotate(165.5 63.41 76.80)"/><ellipse cx="64.48" cy="74.32" rx="2.5" ry="1.05" transform="rotate(241.5 64.48 74.32)"/><ellipse cx="58.83" cy="74.29" rx="2.5" ry="1.05" transform="rotate(179.0 58.83 74.29)"/><ellipse cx="60.45" cy="72.13" rx="2.5" ry="1.05" transform="rotate(255.0 60.45 72.13)"/><ellipse cx="55.00" cy="70.85" rx="2.5" ry="1.05" transform="rotate(192.5 55.00 70.85)"/><ellipse cx="57.08" cy="69.14" rx="2.5" ry="1.05" transform="rotate(268.5 57.08 69.14)"/><ellipse cx="52.13" cy="66.67" rx="2.5" ry="1.05" transform="rotate(206.0 52.13 66.67)"/><ellipse cx="54.56" cy="65.49" rx="2.5" ry="1.05" transform="rotate(282.0 54.56 65.49)"/><ellipse cx="50.38" cy="61.98" rx="2.5" ry="1.05" transform="rotate(219.5 50.38 61.98)"/><ellipse cx="53.02" cy="61.39" rx="2.5" ry="1.05" transform="rotate(295.5 53.02 61.39)"/><ellipse cx="49.85" cy="57.03" rx="2.5" ry="1.05" transform="rotate(233.0 49.85 57.03)"/><ellipse cx="52.55" cy="57.08" rx="2.5" ry="1.05" transform="rotate(309.0 52.55 57.08)"/><ellipse cx="50.57" cy="52.10" rx="2.5" ry="1.05" transform="rotate(246.5 50.57 52.10)"/><ellipse cx="53.18" cy="52.78" rx="2.5" ry="1.05" transform="rotate(322.5 53.18 52.78)"/><ellipse cx="52.49" cy="47.47" rx="2.5" ry="1.05" transform="rotate(260.0 52.49 47.47)"/><ellipse cx="54.87" cy="48.74" rx="2.5" ry="1.05" transform="rotate(336.0 54.87 48.74)"/><ellipse cx="55.51" cy="43.39" rx="2.5" ry="1.05" transform="rotate(273.5 55.51 43.39)"/><ellipse cx="57.53" cy="45.17" rx="2.5" ry="1.05" transform="rotate(349.5 57.53 45.17)"/><ellipse cx="76.32" cy="78.23" rx="2.5" ry="1.05" transform="rotate(208.0 76.32 78.23)"/><ellipse cx="75.85" cy="75.57" rx="2.5" ry="1.05" transform="rotate(132.0 75.85 75.57)"/><ellipse cx="81.39" cy="76.80" rx="2.5" ry="1.05" transform="rotate(194.5 81.39 76.80)"/><ellipse cx="80.32" cy="74.32" rx="2.5" ry="1.05" transform="rotate(118.5 80.32 74.32)"/><ellipse cx="85.97" cy="74.29" rx="2.5" ry="1.05" transform="rotate(181.0 85.97 74.29)"/><ellipse cx="84.35" cy="72.13" rx="2.5" ry="1.05" transform="rotate(105.0 84.35 72.13)"/><ellipse cx="89.80" cy="70.85" rx="2.5" ry="1.05" transform="rotate(167.5 89.80 70.85)"/><ellipse cx="87.72" cy="69.14" rx="2.5" ry="1.05" transform="rotate(91.5 87.72 69.14)"/><ellipse cx="92.67" cy="66.67" rx="2.5" ry="1.05" transform="rotate(154.0 92.67 66.67)"/><ellipse cx="90.24" cy="65.49" rx="2.5" ry="1.05" transform="rotate(78.0 90.24 65.49)"/><ellipse cx="94.42" cy="61.98" rx="2.5" ry="1.05" transform="rotate(140.5 94.42 61.98)"/><ellipse cx="91.78" cy="61.39" rx="2.5" ry="1.05" transform="rotate(64.5 91.78 61.39)"/><ellipse cx="94.95" cy="57.03" rx="2.5" ry="1.05" transform="rotate(127.0 94.95 57.03)"/><ellipse cx="92.25" cy="57.08" rx="2.5" ry="1.05" transform="rotate(51.0 92.25 57.08)"/><ellipse cx="94.23" cy="52.10" rx="2.5" ry="1.05" transform="rotate(113.5 94.23 52.10)"/><ellipse cx="91.62" cy="52.78" rx="2.5" ry="1.05" transform="rotate(37.5 91.62 52.78)"/><ellipse cx="92.31" cy="47.47" rx="2.5" ry="1.05" transform="rotate(100.0 92.31 47.47)"/><ellipse cx="89.93" cy="48.74" rx="2.5" ry="1.05" transform="rotate(24.0 89.93 48.74)"/><ellipse cx="89.29" cy="43.39" rx="2.5" ry="1.05" transform="rotate(86.5 89.29 43.39)"/><ellipse cx="87.27" cy="45.17" rx="2.5" ry="1.05" transform="rotate(10.5 87.27 45.17)"/><path d="M52.5,67 Q60,77.5 76,76.8 M92.3,67 Q84.8,77.5 68.8,76.8" fill="none" stroke="#1a72bb" stroke-width="1.3"/><path fill-rule="evenodd" d="M59.8,66.2 L59.8,50 Q59.8,44 72.4,37.2 Q85,44 85,50 L85,66.2 L81.2,66.2 L81.2,51 Q80.8,46.6 72.4,41.4 Q64,46.6 63.6,51 L63.6,66.2 Z"/><circle cx="72.4" cy="44.6" r="1.9"/><path d="M69.6,48.2 Q72.4,46.8 75.2,48.2 L75.8,58 L74.6,66.2 L70.2,66.2 L69,58 Z"/><path d="M64.6,53 L66.8,49.5 L67,66.2 L64.6,66.2 Z M80.2,53 L78,49.5 L77.8,66.2 L80.2,66.2 Z"/></g></svg>
<svg style="left:0;top:0" width="420" height="360"><g fill="#1a72bb"><circle cx="40.8" cy="234.8" r="1.9"/><path d="M37.6,238 Q40.8,236.6 44,238 L45.5,243.5 L44.2,244 L43.4,240.5 L43.4,251.2 L38.2,251.2 L38.2,240.5 L37.4,244 L36.1,243.5 Z"/></g><g stroke="#1d4f7a" stroke-width="1.3" fill="none"><path d="M32.4,232.8 L36,236.2"/><path d="M49.6,232.8 L46,236.2"/><path d="M32.4,250.8 L35.6,247.6"/><path d="M49.6,250.8 L46.4,247.6"/></g><g fill="#1d4f7a"><path d="M31.6,232 L34.6,232.4 L32,235 Z"/><path d="M50.4,232 L47.4,232.4 L50,235 Z"/><path d="M31.6,251.6 L32,248.6 L34.6,251.2 Z"/><path d="M50.4,251.6 L50,248.6 L47.4,251.2 Z"/></g><g transform="translate(154.6,232.4) scale(0.93)" stroke="#1a72bb" fill="none" stroke-linecap="round" stroke-linejoin="round"><circle cx="12.6" cy="2.6" r="2.1" fill="#1a72bb" stroke="none"/><path d="M11.6,6 L8.6,12.2" stroke-width="3.4"/><path d="M11,6.2 L6.4,7.2 L3.8,10.2" stroke-width="2"/><path d="M11.8,7 L13.4,10.4" stroke-width="1.8"/><path d="M8.6,12 L5.8,15.6 L2.8,19" stroke-width="2.2"/><path d="M9,12 L12.4,15.2 L12.6,19.2" stroke-width="2.2"/></g><path d="M167.6,242 L175,242" stroke="#1a72bb" stroke-width="1.8"/><path d="M172.6,238.8 L176.4,242 L172.6,245.2 Z" fill="#1a72bb"/><g transform="translate(274.6,232.4) scale(0.93)" stroke="#8c8c8c" fill="none" stroke-linecap="round" stroke-linejoin="round"><circle cx="12.6" cy="2.6" r="2.1" fill="#8c8c8c" stroke="none"/><path d="M11.6,6 L8.6,12.2" stroke-width="3.4"/><path d="M11,6.2 L6.4,7.2 L3.8,10.2" stroke-width="2"/><path d="M11.8,7 L13.4,10.4" stroke-width="1.8"/><path d="M8.6,12 L5.8,15.6 L2.8,19" stroke-width="2.2"/><path d="M9,12 L12.4,15.2 L12.6,19.2" stroke-width="2.2"/></g><path d="M290.4,232 L290.4,251.5" stroke="#8c8c8c" stroke-width="1.2" stroke-dasharray="2.2 1.2"/><path d="M292.4,238.4 L295.4,241.8 L292.4,245.2" stroke="#8c8c8c" stroke-width="1.6" fill="none"/><g transform="translate(31.2,301.2) scale(0.8)" stroke="#1a72bb" fill="none" stroke-linecap="round" stroke-linejoin="round"><circle cx="12.6" cy="2.6" r="2.1" fill="#1a72bb" stroke="none"/><path d="M11.6,6 L8.6,12.2" stroke-width="3.4"/><path d="M11,6.2 L6.4,7.2 L3.8,10.2" stroke-width="2"/><path d="M11.8,7 L13.4,10.4" stroke-width="1.8"/><path d="M8.6,12 L5.8,15.6 L2.8,19" stroke-width="2.2"/><path d="M9,12 L12.4,15.2 L12.6,19.2" stroke-width="2.2"/></g><path d="M46.4,300.6 L46.4,317" stroke="#1a72bb" stroke-width="1.2" stroke-dasharray="2 1.2"/><path d="M47.6,305.4 L50.4,308.6 L47.6,311.8" stroke="#1a72bb" stroke-width="1.6" fill="none"/><g transform="translate(153.6,301.2) scale(0.8)" stroke="#1a72bb" fill="none" stroke-linecap="round" stroke-linejoin="round"><circle cx="12.6" cy="2.6" r="2.1" fill="#1a72bb" stroke="none"/><path d="M11.6,6 L8.6,12.2" stroke-width="3.4"/><path d="M11,6.2 L6.4,7.2 L3.8,10.2" stroke-width="2"/><path d="M11.8,7 L13.4,10.4" stroke-width="1.8"/><path d="M8.6,12 L5.8,15.6 L2.8,19" stroke-width="2.2"/><path d="M9,12 L12.4,15.2 L12.6,19.2" stroke-width="2.2"/></g><path d="M167.6,300.6 L167.6,317" stroke="#1a72bb" stroke-width="1.1" stroke-dasharray="2 1.2"/><path d="M168.8,305.6 L171.4,308.4 L168.8,311.2" stroke="#1a72bb" stroke-width="1.5" fill="none"/><g transform="translate(275.6,300.4) scale(0.86)" stroke="#1f9e88" fill="none" stroke-linecap="round" stroke-linejoin="round"><circle cx="12.6" cy="2.6" r="2.1" fill="#1f9e88" stroke="none"/><path d="M11.6,6 L8.6,12.2" stroke-width="3.4"/><path d="M11,6.2 L6.4,7.2 L3.8,10.2" stroke-width="2"/><path d="M11.8,7 L13.4,10.4" stroke-width="1.8"/><path d="M8.6,12 L5.8,15.6 L2.8,19" stroke-width="2.2"/><path d="M9,12 L12.4,15.2 L12.6,19.2" stroke-width="2.2"/></g><path d="M290,306.4 L295.4,306.4 Q299,307 298.6,311 Q298,314.6 294.6,314.6 L292.2,313.4" stroke="#1f9e88" stroke-width="1.5" fill="none"/><path d="M290.4,311.6 L294.8,309.8 L293.4,316.2 Z" fill="#1f9e88"/></svg>
<div class="t" style="left:847.00px;top:37.21px;font-size:14.4px;color:#222;letter-spacing:-0.342px;">SUDAN EMERGENCY</div>
<div class="t" style="left:676.00px;top:53.64px;font-size:18.6px;color:#111;font-weight:700;">Population movements from Sudan</div>
<div class="t" style="left:929.50px;top:77.80px;font-size:9px;color:#888;letter-spacing:0.211px;">20 April, 2026</div>
<div class="t" style="left:102.70px;top:40.02px;font-size:31.8px;color:#1a72bb;font-weight:700;letter-spacing:1.334px;-webkit-text-stroke:0.9px #1a72bb;">UNHCR</div>
<div class="t" style="left:104.40px;top:69.88px;font-size:9.5px;color:#1a72bb;font-weight:700;letter-spacing:0.382px;-webkit-text-stroke:0.25px #1a72bb;">The UN Refugee Agency</div>
<div class="t" style="left:33.00px;top:92.47px;font-size:9.5px;color:#3a3a3a;letter-spacing:-0.067px;">There are now 11.5 million forcibly displaced due to the outbreak of conflict in Sudan</div>
<div class="t" style="left:33.00px;top:104.75px;font-size:9.5px;color:#3a3a3a;letter-spacing:-0.042px;">since April 2023, including 6.7 million internally and 4.5 million in neighbouring</div>
<div class="t" style="left:33.00px;top:117.03px;font-size:9.5px;color:#3a3a3a;letter-spacing:-0.086px;">countries. Sudan and neighbouring countries were already hosting large refugee</div>
<div class="t" style="left:33.00px;top:129.31px;font-size:9.5px;color:#3a3a3a;letter-spacing:-0.078px;">populations before this new emergency and require additional support to provide</div>
<div class="t" style="left:33.00px;top:141.59px;font-size:9.5px;color:#3a3a3a;letter-spacing:-0.072px;">protection and critical life-saving assistance, including for those who have been</div>
<div class="t" style="left:33.00px;top:153.88px;font-size:9.5px;color:#3a3a3a;letter-spacing:-0.068px;">secondarily displaced within Sudan. Urgent needs include water, food, shelter, health,</div>
<div class="t" style="left:33.00px;top:166.15px;font-size:9.5px;color:#3a3a3a;letter-spacing:-0.059px;">and core relief items. The current priority activities are the registration of new arrivals,</div>
<div class="t" style="left:33.00px;top:178.44px;font-size:9.5px;color:#3a3a3a;letter-spacing:-0.076px;">relocation away from border areas, identification of especially vulnerable families and</div>
<div class="t" style="left:33.00px;top:190.71px;font-size:9.5px;color:#3a3a3a;letter-spacing:-0.077px;">persons with specific needs, and putting mechanisms in place to prevent and respond to</div>
<div class="t" style="left:33.00px;top:203.00px;font-size:9.5px;color:#3a3a3a;letter-spacing:-0.086px;">sexual violence and ensure alternative care services for unaccompanied refugee</div>
<div class="t" style="left:33.00px;top:215.27px;font-size:9.5px;color:#3a3a3a;letter-spacing:-0.325px;">children.</div>
<div class="t" style="left:32.50px;top:250.85px;font-size:16.0px;color:#1b72b9;font-weight:700;letter-spacing:-0.119px;">11.5M</div>
<div class="t" style="left:32.50px;top:270.50px;font-size:9px;color:#3a3a3a;letter-spacing:0.102px;">Total Forcibly Displaced</div>
<div class="t" style="left:155.60px;top:250.85px;font-size:16.0px;color:#1b72b9;font-weight:700;letter-spacing:0.005px;">6.7M</div>
<div class="t" style="left:155.60px;top:270.50px;font-size:9px;color:#3a3a3a;letter-spacing:0.262px;">New IDPs in Sudan</div>
<div class="t" style="left:278.00px;top:250.85px;font-size:16.0px;color:#8a8a8a;font-weight:700;letter-spacing:0.101px;">273.0K</div>
<div class="t" style="left:278.00px;top:270.50px;font-size:9px;color:#3a3a3a;letter-spacing:0.151px;">Self-Relocated Refugees in</div>
<div class="t" style="left:278.00px;top:280.50px;font-size:9px;color:#3a3a3a;letter-spacing:-0.006px;">Sudan</div>
<div class="t" style="left:32.50px;top:317.45px;font-size:16.0px;color:#1b72b9;font-weight:700;letter-spacing:-0.195px;">4.5M</div>
<div class="t" style="left:32.50px;top:336.40px;font-size:9px;color:#3a3a3a;letter-spacing:0.081px;">Refugees, Asylum Seekers</div>
<div class="t" style="left:32.50px;top:346.40px;font-size:9px;color:#3a3a3a;letter-spacing:-0.196px;">and Returnees</div>
<div class="t" style="left:155.60px;top:317.45px;font-size:16.0px;color:#1b72b9;font-weight:700;letter-spacing:0.005px;">3.6M</div>
<div class="t" style="left:155.60px;top:336.40px;font-size:9px;color:#3a3a3a;letter-spacing:0.207px;">Refugees and Asylum</div>
<div class="t" style="left:155.60px;top:346.40px;font-size:9px;color:#3a3a3a;letter-spacing:-0.576px;">Seekers</div>
<div class="t" style="left:278.00px;top:317.45px;font-size:16.0px;color:#20a896;font-weight:700;letter-spacing:0.168px;">905.9K</div>
<div class="t" style="left:278.00px;top:336.40px;font-size:9px;color:#3a3a3a;letter-spacing:0.026px;">Refugee Returnees</div>
<div class="t" style="left:33.40px;top:361.25px;font-size:10px;color:#333;font-weight:700;letter-spacing:0.188px;">New arrivals from Sudan</div>
<div class="t" style="left:33.40px;top:376.30px;font-size:9px;color:#555;letter-spacing:0.046px;">1.5M</div>
<div class="t" style="left:33.40px;top:408.30px;font-size:9px;color:#555;letter-spacing:0.046px;">1.0M</div>
<div class="t" style="left:33.40px;top:440.30px;font-size:9px;color:#555;letter-spacing:0.046px;">0.5M</div>
<div class="t" style="left:86.00px;top:482.80px;font-size:9px;color:#444;letter-spacing:0.246px;">Jul 2023</div>
<div class="t" style="left:151.00px;top:482.80px;font-size:9px;color:#444;letter-spacing:-0.131px;">Jan 2024</div>
<div class="t" style="left:216.20px;top:482.80px;font-size:9px;color:#444;letter-spacing:0.246px;">Jul 2024</div>
<div class="t" style="left:282.40px;top:482.80px;font-size:9px;color:#444;letter-spacing:-0.131px;">Jan 2025</div>
<div class="t" style="left:348.00px;top:482.80px;font-size:9px;color:#444;letter-spacing:0.246px;">Jul 2025</div>
<div class="t" style="left:66.90px;top:503.70px;font-size:9px;color:#444;letter-spacing:-0.505px;">CAR</div>
<div class="t" style="left:101.70px;top:503.70px;font-size:9px;color:#444;letter-spacing:-0.129px;">Chad</div>
<div class="t" style="left:138.50px;top:503.70px;font-size:9px;color:#444;letter-spacing:0.297px;">Egypt</div>
<div class="t" style="left:177.50px;top:503.70px;font-size:9px;color:#444;letter-spacing:0.559px;">Ethiopia</div>
<div class="t" style="left:226.50px;top:503.70px;font-size:9px;color:#444;letter-spacing:0.541px;">South Sudan</div>
<div class="t" style="left:294.30px;top:503.70px;font-size:9px;color:#444;letter-spacing:0.245px;">Uganda</div>
<div class="t" style="left:342.20px;top:503.70px;font-size:9px;color:#444;letter-spacing:0.297px;">Libya</div>
<div class="t" style="left:33.40px;top:519.15px;font-size:10px;color:#333;font-weight:700;letter-spacing:0.238px;">Demographical Breakdown of new arrivals</div>
<div class="t" style="left:126.57px;top:541.22px;font-size:7.8px;color:#e6f3f3;">24%</div>
<div class="t" style="left:205.37px;top:541.22px;font-size:7.8px;color:#e6f3f3;">27%</div>
<div class="t" style="left:282.61px;top:541.22px;font-size:7.8px;color:#e6f3f3;">23%</div>
<div class="t" style="left:356.77px;top:541.22px;font-size:7.8px;color:#e6f3f3;">25%</div>
<div class="t" style="left:68.70px;top:540.40px;font-size:9px;color:#333;letter-spacing:0.495px;">CAR</div>
<div class="t" style="left:132.32px;top:559.25px;font-size:7.8px;color:#e6f3f3;">28%</div>
<div class="t" style="left:216.44px;top:559.25px;font-size:7.8px;color:#e6f3f3;">27%</div>
<div class="t" style="left:283.74px;top:559.25px;font-size:7.8px;color:#e6f3f3;">17%</div>
<div class="t" style="left:352.57px;top:559.25px;font-size:7.8px;color:#e6f3f3;">28%</div>
<div class="t" style="left:67.20px;top:558.43px;font-size:9px;color:#333;letter-spacing:0.121px;">Chad</div>
<div class="t" style="left:118.56px;top:577.28px;font-size:7.8px;color:#e6f3f3;">19%</div>
<div class="t" style="left:176.68px;top:577.28px;font-size:7.8px;color:#e6f3f3;">19%</div>
<div class="t" style="left:247.03px;top:577.28px;font-size:7.8px;color:#e6f3f3;">27%</div>
<div class="t" style="left:341.86px;top:577.28px;font-size:7.8px;color:#e6f3f3;">35%</div>
<div class="t" style="left:64.20px;top:576.46px;font-size:9px;color:#333;letter-spacing:0.397px;">Egypt</div>
<div class="t" style="left:135.38px;top:595.31px;font-size:7.8px;color:#e6f3f3;">30%</div>
<div class="t" style="left:224.09px;top:595.31px;font-size:7.8px;color:#e6f3f3;">28%</div>
<div class="t" style="left:300.57px;top:595.31px;font-size:7.8px;color:#e6f3f3;">22%</div>
<div class="t" style="left:364.81px;top:595.31px;font-size:7.8px;color:#e6f3f3;">20%</div>
<div class="t" style="left:57.20px;top:594.49px;font-size:9px;color:#333;letter-spacing:-0.066px;">Ethiopia</div>
<div class="t" style="left:120.39px;top:613.34px;font-size:7.8px;color:#e6f3f3;">20%</div>
<div class="t" style="left:177.56px;top:613.34px;font-size:7.8px;color:#e6f3f3;">17%</div>
<div class="t" style="left:270.25px;top:613.34px;font-size:7.8px;color:#e6f3f3;">43%</div>
<div class="t" style="left:366.04px;top:613.34px;font-size:7.8px;color:#e6f3f3;">19%</div>
<div class="t" style="left:67.20px;top:612.52px;font-size:9px;color:#333;letter-spacing:0.097px;">Libya</div>
<div class="t" style="left:136.91px;top:631.37px;font-size:7.8px;color:#e6f3f3;">31%</div>
<div class="t" style="left:236.33px;top:631.37px;font-size:7.8px;color:#e6f3f3;">34%</div>
<div class="t" style="left:309.74px;top:631.37px;font-size:7.8px;color:#e6f3f3;">14%</div>
<div class="t" style="left:363.28px;top:631.37px;font-size:7.8px;color:#e6f3f3;">21%</div>
<div class="t" style="left:36.20px;top:630.55px;font-size:9px;color:#333;letter-spacing:0.087px;">South Sudan</div>
<div class="t" style="left:120.09px;top:649.40px;font-size:7.8px;color:#e6f3f3;">20%</div>
<div class="t" style="left:184.32px;top:649.40px;font-size:7.8px;color:#e6f3f3;">22%</div>
<div class="t" style="left:262.33px;top:649.40px;font-size:7.8px;color:#e6f3f3;">29%</div>
<div class="t" style="left:351.04px;top:649.40px;font-size:7.8px;color:#e6f3f3;">29%</div>
<div class="t" style="left:57.20px;top:648.58px;font-size:9px;color:#333;letter-spacing:0.078px;">Uganda</div>
<div class="t" style="left:152.70px;top:675.40px;font-size:9px;color:#555;letter-spacing:0.246px;">Boys</div>
<div class="t" style="left:187.50px;top:675.40px;font-size:9px;color:#555;letter-spacing:0.300px;">Girls</div>
<div class="t" style="left:222.40px;top:675.40px;font-size:9px;color:#555;letter-spacing:0.161px;">Men</div>
<div class="t" style="left:253.20px;top:675.40px;font-size:9px;color:#555;letter-spacing:0.528px;">Women</div>
<div class="t" style="left:43.30px;top:689.20px;font-size:9px;color:#777;font-weight:700;letter-spacing:0.061px;">Sources:</div>
<div class="t" style="left:85.50px;top:689.20px;font-size:9px;color:#888;letter-spacing:0.209px;">UNHCR &amp; Government</div>
<div class="t" style="left:187.30px;top:689.20px;font-size:9px;color:#999;">|</div>
<div class="t" style="left:195.60px;top:689.20px;font-size:9px;color:#777;font-weight:700;letter-spacing:0.125px;">Contact:</div>
<div class="t" style="left:236.30px;top:689.20px;font-size:9px;color:#888;letter-spacing:0.181px;">rbesa-dima@unhcr.org</div>
<div class="t" style="left:871.10px;top:689.20px;font-size:9px;color:#777;font-weight:700;letter-spacing:0.158px;">Published:</div>
<div class="t" style="left:929.70px;top:689.20px;font-size:9px;color:#888;letter-spacing:0.254px;">20 April, 2026</div>
<div class="t" style="left:514.24px;top:132.12px;font-size:8.8px;color:#eef2f8;font-weight:700;">559,920</div>
<div class="t" style="left:735.43px;top:97.82px;font-size:8.8px;color:#eef2f8;font-weight:700;">1,500,000</div>
<div class="t" style="left:456.54px;top:337.92px;font-size:8.8px;color:#eef2f8;font-weight:700;">925,960</div>
<div class="t" style="left:477.75px;top:499.87px;font-size:8.8px;color:#eef2f8;font-weight:700;">43,253</div>
<div class="t" style="left:699.28px;top:496.37px;font-size:8.8px;color:#eef2f8;font-weight:700;">1,323,799</div>
<div class="t" style="left:881.70px;top:428.32px;font-size:8.8px;color:#eef2f8;font-weight:700;">77,219</div>
<div class="t" style="left:776.50px;top:613.12px;font-size:8.8px;color:#eef2f8;font-weight:700;">89,846</div>
<div class="t" style="left:508.00px;top:104.16px;font-size:9.4px;color:#222;font-weight:700;letter-spacing:0.547px;">LIBYA</div>
<div class="t" style="left:510.90px;top:153.60px;font-size:9px;color:#444;letter-spacing:-0.193px;">Sudanese</div>
<div class="t" style="left:511.40px;top:165.40px;font-size:9px;color:#444;letter-spacing:-0.066px;">Refugees</div>
<div class="t" style="left:648.10px;top:109.85px;font-size:10px;color:#222;font-weight:700;letter-spacing:0.159px;">EGYPT</div>
<div class="t" style="left:718.20px;top:116.80px;font-size:9px;color:#444;letter-spacing:0.126px;">Total New Arrivals</div>
<div class="t" style="left:682.70px;top:252.21px;font-size:10.4px;color:#222;font-weight:700;letter-spacing:0.009px;">SUDAN</div>
<div class="t" style="left:456.40px;top:309.85px;font-size:10px;color:#222;font-weight:700;">CHAD</div>
<div class="t" style="left:453.00px;top:358.80px;font-size:9px;color:#444;letter-spacing:-0.068px;">Sudanese</div>
<div class="t" style="left:454.00px;top:371.80px;font-size:9px;color:#444;letter-spacing:-0.066px;">Refugees</div>
<div class="t" style="left:454.30px;top:519.50px;font-size:9px;color:#444;letter-spacing:-0.193px;">Sudanese</div>
<div class="t" style="left:454.30px;top:530.10px;font-size:9px;color:#444;letter-spacing:-0.066px;">Refugees</div>
<div class="t" style="left:454.30px;top:542.70px;font-size:9px;color:#333;font-weight:700;">36,342</div>
<div class="t" style="left:504.40px;top:519.50px;font-size:9px;color:#444;letter-spacing:0.138px;">Refugee</div>
<div class="t" style="left:504.40px;top:530.10px;font-size:9px;color:#444;letter-spacing:0.385px;">Returnees</div>
<div class="t" style="left:504.40px;top:542.70px;font-size:9px;color:#333;font-weight:700;">6,911</div>
<div class="t" style="left:551.10px;top:515.55px;font-size:10px;color:#222;font-weight:700;letter-spacing:0.031px;">CENTRAL</div>
<div class="t" style="left:551.10px;top:527.60px;font-size:10px;color:#222;font-weight:700;letter-spacing:0.143px;">AFRICAN</div>
<div class="t" style="left:551.10px;top:539.65px;font-size:10px;color:#222;font-weight:700;letter-spacing:0.059px;">REPUBLIC</div>
<div class="t" style="left:645.60px;top:516.40px;font-size:9px;color:#444;letter-spacing:-0.068px;">Sudanese</div>
<div class="t" style="left:645.60px;top:526.60px;font-size:9px;color:#444;letter-spacing:-0.066px;">Refugees</div>
<div class="t" style="left:645.60px;top:539.20px;font-size:9px;color:#333;font-weight:700;">441,661</div>
<div class="t" style="left:695.70px;top:516.40px;font-size:9px;color:#444;letter-spacing:0.185px;">Refugees - other</div>
<div class="t" style="left:695.70px;top:526.60px;font-size:9px;color:#444;letter-spacing:0.036px;">nationalities</div>
<div class="t" style="left:695.70px;top:539.20px;font-size:9px;color:#333;font-weight:700;">4,588</div>
<div class="t" style="left:770.80px;top:516.40px;font-size:9px;color:#444;letter-spacing:0.138px;">Refugee</div>
<div class="t" style="left:770.80px;top:526.60px;font-size:9px;color:#444;letter-spacing:0.052px;">Returnees</div>
<div class="t" style="left:770.80px;top:539.20px;font-size:9px;color:#333;font-weight:700;">877,550</div>
<div class="t" style="left:728.50px;top:553.95px;font-size:10px;color:#222;font-weight:700;letter-spacing:-0.100px;">SOUTH</div>
<div class="t" style="left:728.50px;top:566.35px;font-size:10px;color:#222;font-weight:700;letter-spacing:-0.013px;">SUDAN</div>
<div class="t" style="left:867.80px;top:399.45px;font-size:10px;color:#222;font-weight:700;letter-spacing:0.158px;">ETHIOPIA</div>
<div class="t" style="left:862.00px;top:457.80px;font-size:9px;color:#444;letter-spacing:0.102px;">Sudanese Refugees</div>
<div class="t" style="left:862.00px;top:470.20px;font-size:9px;color:#333;font-weight:700;letter-spacing:0.078px;">45,118</div>
<div class="t" style="left:862.00px;top:489.20px;font-size:9px;color:#444;letter-spacing:0.077px;">Refugees - other nationalities</div>
<div class="t" style="left:862.00px;top:501.60px;font-size:9px;color:#333;font-weight:700;letter-spacing:-0.005px;">10,708</div>
<div class="t" style="left:862.00px;top:521.20px;font-size:9px;color:#444;letter-spacing:0.126px;">Refugee Returnees</div>
<div class="t" style="left:862.00px;top:533.00px;font-size:9px;color:#333;font-weight:700;letter-spacing:-0.005px;">21,393</div>
<div class="t" style="left:744.00px;top:630.70px;font-size:9px;color:#444;letter-spacing:0.038px;">Sudanese Refugees</div>
<div class="t" style="left:762.60px;top:641.75px;font-size:10px;color:#222;font-weight:700;letter-spacing:0.185px;">UGANDA</div>
<div class="t" style="left:428.50px;top:648.23px;font-size:6.5px;color:#222;letter-spacing:0.216px;-webkit-text-stroke:0.2px #222;">The figures do not include those Third Country Nationals who are not seeking asylum.</div>
<div class="t" style="left:428.50px;top:660.73px;font-size:6.5px;color:#222;letter-spacing:0.237px;-webkit-text-stroke:0.2px #222;">Refugee Returnees figure may include previously registered refugees in Sudan and those that may not have been registered</div>
<div class="t" style="left:428.50px;top:672.43px;font-size:6.5px;color:#222;letter-spacing:0.211px;-webkit-text-stroke:0.2px #222;">The boundaries and names shown and the designations used on this map do not imply official endorsement or acceptance by the United Nations.</div>
<div class="t" style="left:894.65px;top:648.24px;font-size:6.6px;color:#e8eef5;letter-spacing:0.099px;">XXX</div>
<div class="t" style="left:915.30px;top:648.36px;font-size:7.4px;color:#222;letter-spacing:-0.184px;-webkit-text-stroke:0.25px #222;">Estimated new arrivals</div>
<div class="t" style="left:915.30px;top:664.46px;font-size:7.4px;color:#222;letter-spacing:-0.018px;-webkit-text-stroke:0.25px #222;">Crossing point</div>
<div class="t" style="left:683.17px;top:204.38px;font-size:4.2px;color:#a8a8a8;letter-spacing:0.35px;">NORTHERN</div>
<div class="t" style="left:781.96px;top:235.08px;font-size:4.2px;color:#a8a8a8;letter-spacing:0.35px;">RIVER NILE</div>
<div class="t" style="left:835.80px;top:196.78px;font-size:4.2px;color:#a8a8a8;letter-spacing:0.35px;">RED SEA</div>
<div class="t" style="left:585.58px;top:288.98px;font-size:4.2px;color:#a8a8a8;letter-spacing:0.35px;">NORTH DARFUR</div>
<div class="t" style="left:697.39px;top:321.58px;font-size:4.2px;color:#a8a8a8;letter-spacing:0.35px;">NORTH</div>
<div class="t" style="left:693.05px;top:326.58px;font-size:4.2px;color:#a8a8a8;letter-spacing:0.35px;">KORDOFAN</div>
<div class="t" style="left:767.09px;top:299.38px;font-size:4.2px;color:#a8a8a8;letter-spacing:0.35px;">KHARTOUM</div>
<div class="t" style="left:843.95px;top:300.38px;font-size:4.2px;color:#a8a8a8;letter-spacing:0.35px;">KASSALA</div>
<div class="t" style="left:779.70px;top:328.18px;font-size:4.2px;color:#a8a8a8;letter-spacing:0.35px;">AL JAZIRAH</div>
<div class="t" style="left:822.67px;top:342.68px;font-size:4.2px;color:#a8a8a8;letter-spacing:0.35px;">GEDAREF</div>
<div class="t" style="left:755.82px;top:372.68px;font-size:4.2px;color:#a8a8a8;letter-spacing:0.35px;">WHITE NILE</div>
<div class="t" style="left:798.27px;top:369.58px;font-size:4.2px;color:#a8a8a8;letter-spacing:0.35px;">SENNAR</div>
<div class="t" style="left:798.29px;top:412.08px;font-size:4.2px;color:#a8a8a8;letter-spacing:0.35px;">BLUE NILE</div>
<div class="t" style="left:726.37px;top:413.88px;font-size:4.2px;color:#a8a8a8;letter-spacing:0.35px;">SOUTH</div>
<div class="t" style="left:721.95px;top:418.88px;font-size:4.2px;color:#a8a8a8;letter-spacing:0.35px;">KORDOFAN</div>
<div class="t" style="left:648.96px;top:394.58px;font-size:4.2px;color:#a8a8a8;letter-spacing:0.35px;">WEST KORDOFAN</div>
<div class="t" style="left:610.26px;top:418.28px;font-size:4.2px;color:#a8a8a8;letter-spacing:0.35px;">EAST DARFUR</div>
<div class="t" style="left:559.96px;top:423.68px;font-size:4.2px;color:#a8a8a8;letter-spacing:0.35px;">SOUTH DARFUR</div>
<div class="t" style="left:537.53px;top:381.58px;font-size:4.2px;color:#a8a8a8;letter-spacing:0.35px;">CENTRAL</div>
<div class="t" style="left:538.57px;top:386.58px;font-size:4.2px;color:#a8a8a8;letter-spacing:0.35px;">DARFUR</div>
<div class="t" style="left:528.95px;top:349.88px;font-size:4.2px;color:#a8a8a8;letter-spacing:0.35px;">WEST</div>
<div class="t" style="left:526.27px;top:354.88px;font-size:4.2px;color:#a8a8a8;letter-spacing:0.35px;">DARFUR</div>
<div class="t" style="left:965.80px;top:282.78px;font-size:4.2px;color:#a8a8a8;letter-spacing:0.35px;">RED SEA</div>
</body></html>
